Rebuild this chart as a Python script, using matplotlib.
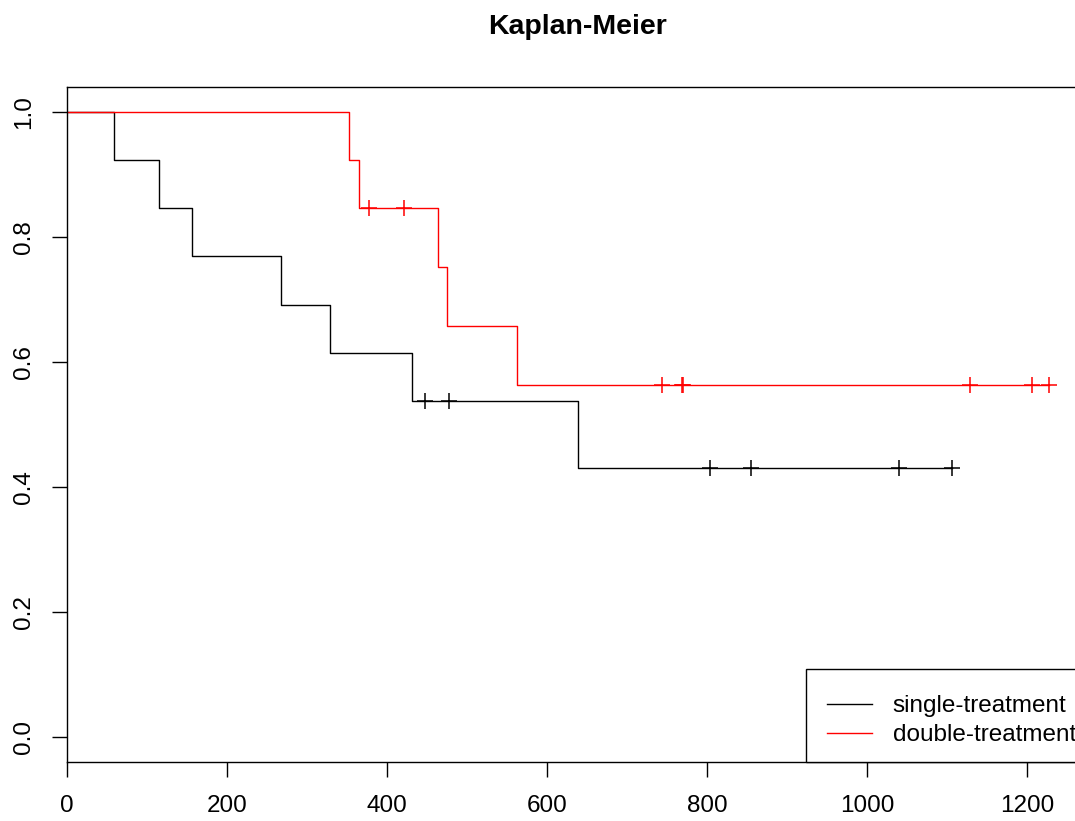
import numpy as np
import matplotlib
matplotlib.use("Agg")
import matplotlib.pyplot as plt
from matplotlib.patches import Rectangle

# -----------------------
# DATA
# -----------------------
single_times = [0, 59, 115, 156, 268, 329, 431, 638, 1106]
single_surv = [1.0, 0.923, 0.846, 0.769, 0.692, 0.615, 0.538, 0.431, 0.431]
single_cens_t = [448, 477, 803, 855, 1040, 1106]
single_cens_s = [0.538, 0.538, 0.431, 0.431, 0.431, 0.431]

double_times = [0, 353, 365, 464, 475, 563, 1227]
double_surv = [1.0, 0.923, 0.846, 0.752, 0.658, 0.564, 0.564]
double_cens_t = [377, 421, 744, 769, 770, 1129, 1206, 1227]
double_cens_s = [0.846, 0.846, 0.564, 0.564, 0.564, 0.564, 0.564, 0.564]

labels = ["single-treatment", "double-treatment"]
x_ticks = [0, 200, 400, 600, 800, 1000, 1200]
y_ticks = [0.0, 0.2, 0.4, 0.6, 0.8, 1.0]

plt.rcParams["font.family"] = ["Liberation Sans", "DejaVu Sans"]

W, H = 1075, 821
fig = plt.figure(figsize=(W / 100, H / 100), dpi=100)
ax = fig.add_axes([67 / W, (H - 762) / H, 1021 / W, 675 / H])

# -----------------------
# CURVES
# -----------------------
lw = 1.0
ax.step(single_times, single_surv, where="post", color="black", lw=lw,
        label=labels[0])
ax.plot(single_cens_t, single_cens_s, "+", color="black", ms=12, mew=1.1)

ax.step(double_times, double_surv, where="post", color="red", lw=lw,
        label=labels[1])
ax.plot(double_cens_t, double_cens_s, "+", color="red", ms=12, mew=1.1)

# -----------------------
# AXES
# -----------------------
ax.set_xlim(0, 1276)
ax.set_ylim(-0.04, 1.04)
ax.set_xticks(x_ticks)
ax.set_xticklabels([str(t) for t in x_ticks])
ax.set_yticks(y_ticks)
ax.set_yticklabels([f"{t:.1f}" for t in y_ticks], rotation=90, va="center")
ax.tick_params(axis="both", direction="out", length=10.8, width=1.0,
               labelsize=17.5)
ax.tick_params(axis="x", pad=13)
ax.tick_params(axis="y", pad=12)
for s in ax.spines.values():
    s.set_linewidth(1.0)

fig.text(577 / W, 1 - 27 / H, "Kaplan-Meier", fontsize=20.5,
         fontweight="bold", ha="center", va="center")

# -----------------------
# LEGEND (R style box running off the right edge)
# -----------------------
box = Rectangle((806 / W, (H - 762) / H), 320 / W, 93 / H,
                transform=fig.transFigure, facecolor="white",
                edgecolor="black", lw=1.0, zorder=4, clip_on=False)
ax.add_patch(box)

leg = ax.legend(loc="lower left",
                bbox_to_anchor=(806 / W, (H - 767) / H),
                bbox_transform=fig.transFigure,
                borderaxespad=0, fontsize=17.5, frameon=False,
                handlelength=1.85, handletextpad=0.86,
                borderpad=0.86, labelspacing=0.28)
leg.set_zorder(5)

fig.savefig("out.png", dpi=100)
